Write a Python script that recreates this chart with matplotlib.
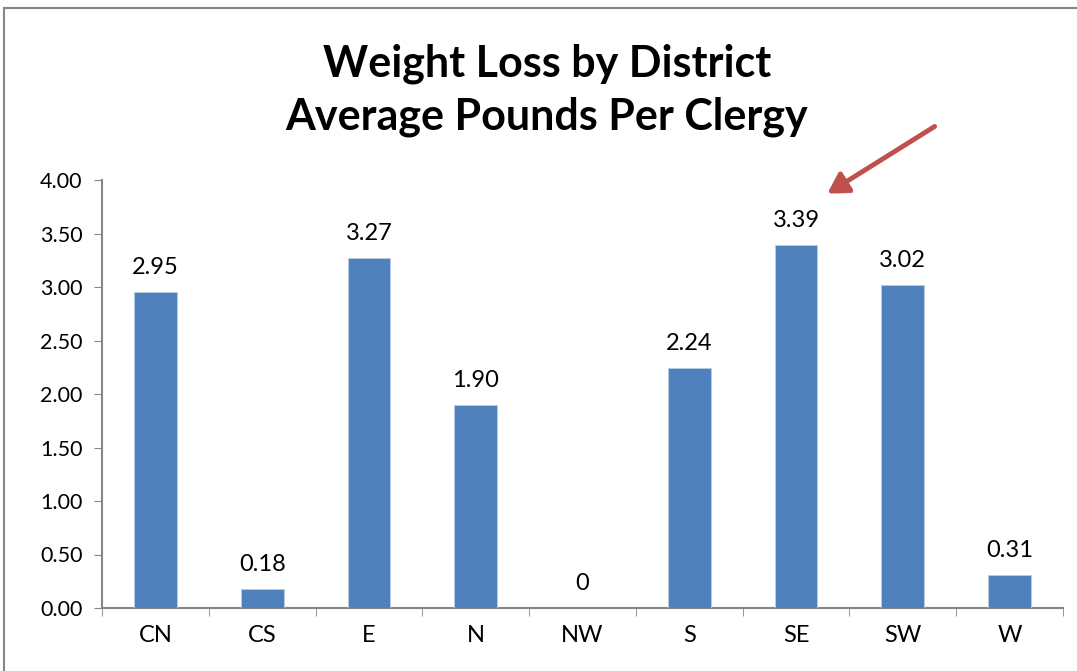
import matplotlib
matplotlib.use("Agg")
import matplotlib.pyplot as plt
from matplotlib.patches import Rectangle
import matplotlib.patheffects as pe

categories = ["CN", "CS", "E", "N", "NW", "S", "SE", "SW", "W"]
values = [2.95, 0.18, 3.27, 1.90, 0.0, 2.24, 3.39, 3.02, 0.31]
labels = ["2.95", "0.18", "3.27", "1.90", "0", "2.24", "3.39", "3.02", "0.31"]
yticks = [0.0, 0.5, 1.0, 1.5, 2.0, 2.5, 3.0, 3.5, 4.0]

plt.rcParams['font.family'] = ['Lato', 'DejaVu Sans']

W, H = 1077, 671
fig = plt.figure(figsize=(W / 100, H / 100), dpi=100)
ax = fig.add_axes([102 / W, (H - 608) / H, (1063 - 102) / W, (608 - 180) / H])

x = list(range(len(categories)))
ax.bar(x, values, width=0.4, color="#4F81BD", edgecolor="#B9CDE5", linewidth=0.6, zorder=3)
for xi, v, lab in zip(x, values, labels):
    ax.annotate(lab, (xi, v), xytext=(0, 10), textcoords="offset points",
                ha="center", va="bottom", fontsize=17, color="black")

ax.set_xlim(-0.5, len(categories) - 0.5)
ax.set_ylim(0, 4.0)
ax.set_yticks(yticks)
ax.set_yticklabels([f"{t:.2f}" for t in yticks], fontsize=15.5)
ax.set_xticks(x)
ax.set_xticklabels(categories, fontsize=17)
ax.tick_params(axis="x", length=0, pad=12)
ax.set_xticks([i - 0.5 for i in range(len(categories) + 1)], minor=True)
ax.tick_params(axis="x", which="minor", length=6, color="#868686", direction="out")
ax.tick_params(axis="y", length=6, color="#868686", direction="out", pad=8)
for s in ["top", "right"]:
    ax.spines[s].set_visible(False)
for s in ["left", "bottom"]:
    ax.spines[s].set_color("#868686")
    ax.spines[s].set_linewidth(1.5)

fig.text(547 / W, 1 - 90 / H, "Weight Loss by District\nAverage Pounds Per Clergy",
         ha="center", va="center", fontsize=31, fontweight="bold", linespacing=1.38)

# chart border
fig.patches.append(Rectangle((4 / W, -0.05), 1.1, 1 - 8 / H + 0.05, transform=fig.transFigure,
                             fill=False, edgecolor="#868686", linewidth=1.5))

# arrow
fig.add_artist(matplotlib.patches.FancyArrowPatch(
    (937 / W, 1 - 125 / H), (825 / W, 1 - 195 / H), transform=fig.transFigure,
    arrowstyle="-|>,head_length=12,head_width=7", mutation_scale=1,
    color="#C0504D", linewidth=3.5,
    path_effects=[pe.SimplePatchShadow(offset=(2, -2), alpha=0.25), pe.Normal()]))

fig.savefig("out.png", dpi=100)
